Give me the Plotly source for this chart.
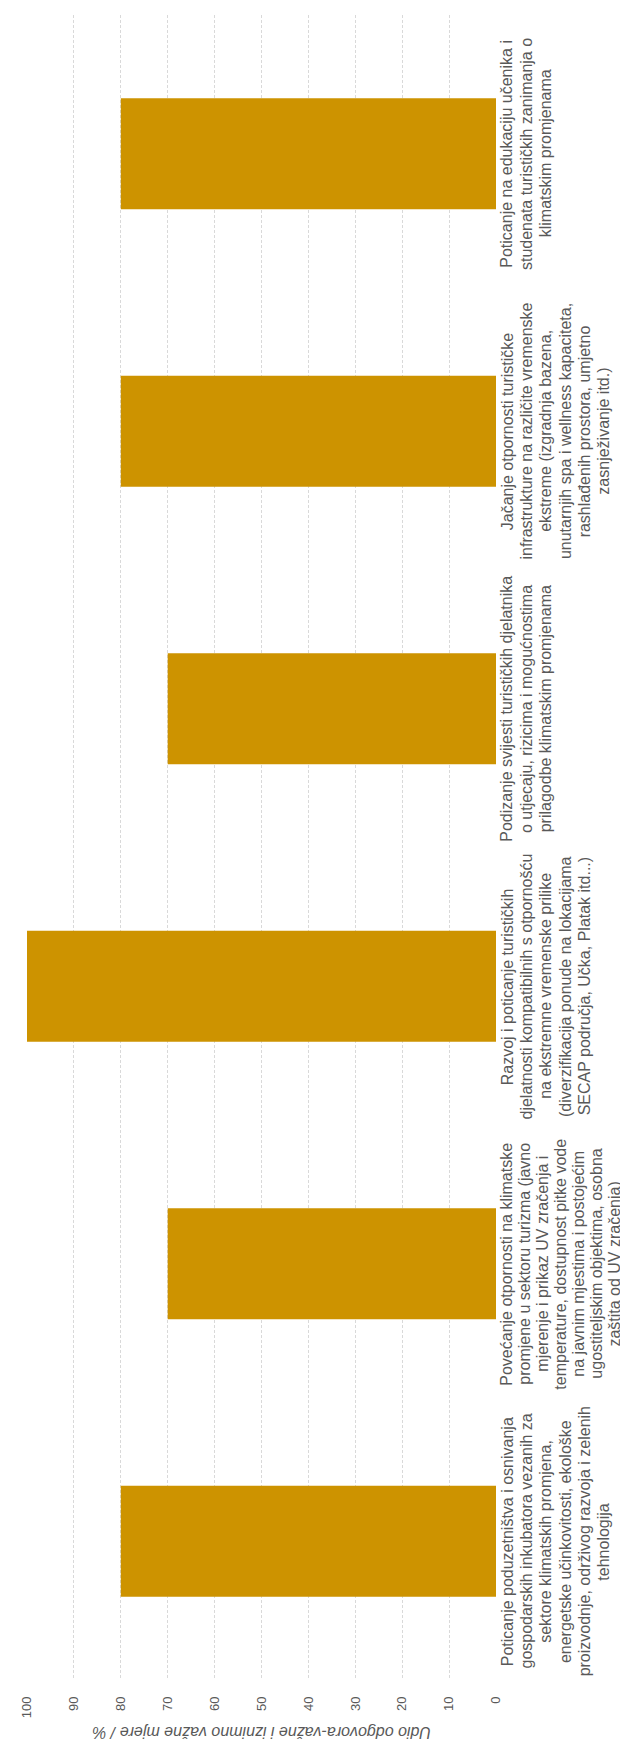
import plotly.graph_objects as go

categories = [
    "Poticanje na edukaciju učenika i<br>studenata turističkih zanimanja o<br>klimatskim promjenama",
    "Jačanje otpornosti turističke<br>infrastrukture na različite vremenske<br>ekstreme (izgradnja bazena,<br>unutarnjih spa i wellness kapaciteta,<br>rashlađenih prostora, umjetno<br>zasnježivanje itd.)",
    "Podizanje svijesti turističkih djelatnika<br>o utjecaju, rizicima i mogućnostima<br>prilagodbe klimatskim promjenama",
    "Razvoj i poticanje turističkih<br>djelatnosti kompatibilnih s otpornošću<br>na ekstremne vremenske prilike<br>(diverzifikacija ponude na lokacijama<br>SECAP područja, Učka, Platak itd...)",
    "Povećanje otpornosti na klimatske<br>promjene u sektoru turizma (javno<br>mjerenje i prikaz UV zračenja i<br>temperature, dostupnost pitke vode<br>na javnim mjestima i postojećim<br>ugostiteljskim objektima, osobna<br>zaštita od UV zračenja)",
    "Poticanje poduzetništva i osnivanja<br>gospodarskih inkubatora vezanih za<br>sektore klimatskih promjena,<br>energetske učinkovitosti, ekološke<br>proizvodnje, održivog razvoja i zelenih<br>tehnologija",
]
values = [80, 80, 70, 100, 70, 80]
tick_values = [0, 10, 20, 30, 40, 50, 60, 70, 80, 90, 100]
tick_labels = [str(v) for v in tick_values]
axis_title = "Udio odgovora-važne i iznimno važne mjere / %"

W, H = 628, 1745
ML, MR, MT, MB = 18.5, 140, 7, 73
plot_w = W - ML - MR
plot_h = H - MT - MB

grey = "#595959"
font_family = "Liberation Sans, Arial, sans-serif"

fig = go.Figure()
fig.add_trace(go.Bar(
    x=values,
    y=list(range(len(categories))),
    orientation="h",
    marker=dict(color="#CD9300", line=dict(width=0)),
    width=0.4,
    hoverinfo="skip",
))

annotations = []
first_line_px = 499.0
last_line_max_px = 607.0
for i, cat in enumerate(categories):
    lines = cat.split("<br>")
    step = 19.3
    if len(lines) > 1:
        step = min(step, (last_line_max_px - first_line_px) / (len(lines) - 1))
    for k, line in enumerate(lines):
        px = first_line_px + k * step
        annotations.append(dict(
            x=(px - ML) / plot_w,
            xref="paper",
            y=i,
            yref="y",
            text=line,
            showarrow=False,
            textangle=-90,
            xanchor="center",
            yanchor="middle",
            align="center",
            borderpad=0,
            font=dict(family=font_family, size=16, color=grey),
        ))

annotations.append(dict(
    x=0.5,
    xref="paper",
    y=-(1725 - (H - MB)) / plot_h,
    yref="paper",
    text="<i>" + axis_title + "</i>",
    showarrow=False,
    textangle=180,
    xanchor="center",
    yanchor="middle",
    font=dict(family=font_family, size=16, color=grey),
))

fig.update_layout(
    width=W,
    height=H,
    margin=dict(l=ML, r=MR, t=MT, b=MB, pad=0),
    paper_bgcolor="white",
    plot_bgcolor="white",
    showlegend=False,
    annotations=annotations,
    xaxis=dict(
        range=[100, 0],
        tickmode="array",
        tickvals=tick_values,
        ticktext=tick_labels,
        tickangle=-90,
        showgrid=True,
        gridcolor="#d9d9d9",
        griddash="3px,2px",
        gridwidth=1,
        zeroline=False,
        showline=False,
        ticks="",
        ticklabelstandoff=13,
        tickfont=dict(family=font_family, size=13, color=grey),
        fixedrange=True,
    ),
    yaxis=dict(
        range=[len(categories) - 0.5, -0.5],
        showgrid=False,
        zeroline=False,
        showline=False,
        showticklabels=False,
        ticks="",
        fixedrange=True,
    ),
)

fig.write_html("out.html")
